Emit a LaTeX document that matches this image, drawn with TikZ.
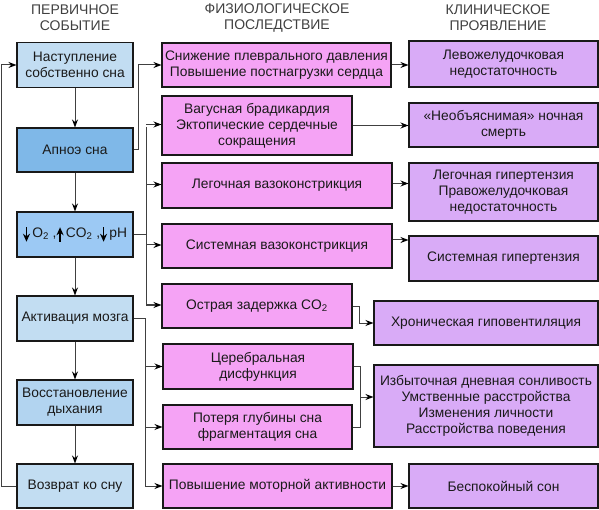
\documentclass[tikz,border=0pt]{standalone}
\usepackage{fontspec}
\setmainfont{Liberation Sans}
\usepackage{tikz}
\usetikzlibrary{arrows.meta, positioning, calc}
\definecolor{PrimLight}{HTML}{C2DDF2}
\definecolor{PrimMid}{HTML}{B2D4F0}
\definecolor{PrimDark}{HTML}{7FB8E8}
\definecolor{PrimGas}{HTML}{9CC9F4}
\definecolor{PhysPink}{HTML}{F5A3F5}
\definecolor{ClinLilac}{HTML}{D9ABF7}
\definecolor{LineGray}{HTML}{404040}
\definecolor{TextDark}{HTML}{1A1A1A}
\newcommand{\arrdn}{\tikz[baseline=0pt]\draw[black, line width=1.5pt, -{Stealth[length=8pt,width=7pt]}] (0pt,10.5pt) -- (0pt,-4pt);\,}
\newcommand{\arrup}{\tikz[baseline=0pt]\draw[black, line width=1.5pt, -{Stealth[length=8pt,width=7pt]}] (0pt,-4pt) -- (0pt,10.5pt);\,}

\begin{document}
\begin{tikzpicture}[x=1pt, y=-1pt, >=Stealth,
  box/.style={draw=black!90, line width=1.1pt, align=center, inner sep=2pt,
    text=TextDark, font=\fontsize{13.8}{16}\selectfont},
  prim/.style={box, minimum width=116pt, minimum height=45pt},
  phys/.style={box, fill=PhysPink, minimum height=44pt},
  clin/.style={box, fill=ClinLilac, minimum height=44pt},
  head/.style={align=center, text=black!75, font=\fontsize{14}{16}\selectfont},
  arr/.style={draw=LineGray, line width=1pt, -{Stealth[length=8pt,width=6pt,black]}},
  bus/.style={draw=LineGray, line width=1pt}]
  \useasboundingbox (0,0) rectangle (599,510);

  % Column headings
  \node[head] (hPrim) at (75,18) {ПЕРВИЧНОЕ\\СОБЫТИЕ};
  \node[head] (hPhys) at (277,18) {ФИЗИОЛОГИЧЕСКОЕ\\ПОСЛЕДСТВИЕ};
  \node[head] (hClin) at (498,18) {КЛИНИЧЕСКОЕ\\ПРОЯВЛЕНИЕ};

  % Primary events
  \node[prim, fill=PrimLight] (onset) at (75,65) {Наступление\\собственно сна};
  \node[prim, fill=PrimDark, minimum height=44pt] (apnea) at (75,150) {Апноэ сна};
  \node[prim, fill=PrimGas] (gases) at (75,234.5)
    {\arrdn O\textsubscript{2} ,\arrup CO\textsubscript{2} ,\arrdn pH};
  \node[prim, fill=PrimLight] (arousal) at (75,318.5) {Активация мозга};
  \node[prim, fill=PrimMid] (resume) at (75,402.5) {Восстановление\\дыхания};
  \node[prim, fill=PrimLight, minimum height=44pt] (back) at (75,486) {Возврат ко сну};

  % Physiological consequences
  \node[phys, minimum width=229pt] (pleural) at (276.5,65)
    {Снижение плеврального давления\\Повышение постнагрузки сердца};
  \node[phys, minimum width=190pt, minimum height=59pt] (vagal) at (257,125.5)
    {Вагусная брадикардия\\Эктопические сердечные\\сокращения};
  \node[phys, minimum width=230pt, minimum height=45pt] (pulmvc) at (277,185.5)
    {Легочная вазоконстрикция};
  \node[phys, minimum width=230pt] (systvc) at (277,246) {Системная вазоконстрикция};
  \node[phys, minimum width=190pt] (cotwo) at (257,306) {Острая задержка CO\textsubscript{2}};
  \node[phys, minimum width=190pt, minimum height=45pt] (cereb) at (258,366.5)
    {Церебральная\\дисфункция};
  \node[phys, minimum width=189pt] (depth) at (257.5,427)
    {Потеря глубины сна\\фрагментация сна};
  \node[phys, minimum width=229pt] (motor) at (277.5,486)
    {Повышение моторной активности};

  % Clinical manifestations
  \node[clin, minimum width=189pt, minimum height=46pt] (lvf) at (503.5,64)
    {Левожелудочковая\\недостаточность};
  \node[clin, minimum width=189pt] (death) at (503.5,125)
    {«Необъяснимая» ночная\\смерть};
  \node[clin, minimum width=189pt, minimum height=58pt] (pht) at (503.5,192)
    {Легочная гипертензия\\Правожелудочковая\\недостаточность};
  \node[clin, minimum width=189pt, minimum height=45pt] (sht) at (503.5,258.5)
    {Системная гипертензия};
  \node[clin, minimum width=224pt] (hypo) at (486,323) {Хроническая гиповентиляция};
  \node[clin, minimum width=224pt, minimum height=82pt] (sleepy) at (486,406)
    {Избыточная дневная сонливость\\Умственные расстройства\\Изменения личности\\Расстройства поведения};
  \node[clin, minimum width=189pt] (restless) at (503.5,486) {Беспокойный сон};

  % Primary chain and return loop
  \draw[arr] (onset) -- (apnea);
  \draw[arr] (apnea) -- (gases);
  \draw[arr] (gases) -- (arousal);
  \draw[arr] (arousal) -- (resume);
  \draw[arr] (resume) -- (back);
  \draw[arr] (back.west) -- ++(-15,0) |- (onset.west);

  % Branches into the middle column
  \draw[arr] (apnea.east) -- ++(5,0) |- (pleural.west);
  \coordinate (gasBus) at (146,0);
  \draw[bus] (gases.east) -- (gases.east -| gasBus);
  \draw[bus] (vagal.west -| gasBus) ++(0,1.5) -- ([yshift=1pt]cotwo.west -| gasBus);
  \foreach \m in {vagal, pulmvc, systvc, cotwo}
    \draw[arr] ([yshift=1pt]\m.west -| gasBus) -- ([yshift=1pt]\m.west);
  \coordinate (brainBus) at (145,0);
  \draw[bus] (arousal.east) -- (arousal.east -| brainBus) -- (motor.west -| brainBus);
  \foreach \m in {cereb, depth, motor}
    \draw[arr] (\m.west -| brainBus) -- (\m.west);

  % Into the clinical column
  \draw[arr] (pleural.east) -- (pleural.east -| lvf.west);
  \draw[arr] (vagal.east) -- (vagal.east -| death.west);
  \draw[arr] ([yshift=2pt]pulmvc.east) -- ([yshift=2pt]pulmvc.east -| pht.west);
  \draw[arr] ([yshift=6pt]systvc.east) -- ([yshift=6pt]systvc.east -| sht.west);
  \draw[arr] (cotwo.east) -- ++(7,0) |- (hypo.west);
  \coordinate (brk) at (360,397);
  \draw[bus] (cereb.east) -| (brk);
  \draw[bus] (depth.east) -| (brk);
  \draw[arr] (brk) -- (brk -| sleepy.west);
  \draw[arr] (motor.east) -- (motor.east -| restless.west);
\end{tikzpicture}
\end{document}
